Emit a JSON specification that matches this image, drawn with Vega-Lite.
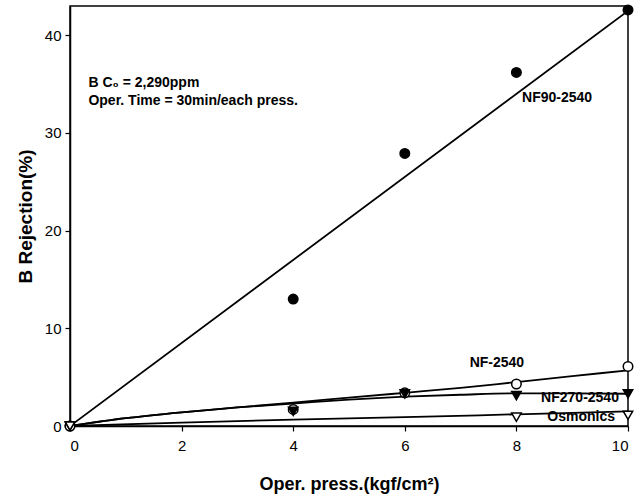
{
  "$schema": "https://vega.github.io/schema/vega-lite/v6.json",
  "autosize": "none",
  "width": 558,
  "height": 420,
  "padding": {"left": 70, "top": 6, "right": 6, "bottom": 77},
  "background": "white",
  "config": {
    "font": "Liberation Sans",
    "view": {"stroke": "black", "strokeWidth": 1.5},
    "axis": {
      "domainColor": "black", "domainWidth": 1.5, "tickColor": "black", "tickSize": 5, "tickWidth": 1.2,
      "grid": false, "labelFont": "Liberation Sans", "labelFontSize": 15, "labelColor": "black",
      "titleFont": "Liberation Sans", "titleFontSize": 18, "titleFontWeight": "bold", "titleColor": "black"
    }
  },
  "datasets": {
    "points": [
      {"series": "NF90-2540", "press": 0, "rej": 0},
      {"series": "NF90-2540", "press": 4, "rej": 13.0},
      {"series": "NF90-2540", "press": 6, "rej": 27.9},
      {"series": "NF90-2540", "press": 8, "rej": 36.2},
      {"series": "NF90-2540", "press": 10, "rej": 42.6},
      {"series": "NF-2540", "press": 0, "rej": 0},
      {"series": "NF-2540", "press": 4, "rej": 1.7},
      {"series": "NF-2540", "press": 6, "rej": 3.4},
      {"series": "NF-2540", "press": 8, "rej": 4.3},
      {"series": "NF-2540", "press": 10, "rej": 6.1},
      {"series": "NF270-2540", "press": 0, "rej": 0},
      {"series": "NF270-2540", "press": 4, "rej": 1.5},
      {"series": "NF270-2540", "press": 6, "rej": 3.3},
      {"series": "NF270-2540", "press": 8, "rej": 3.1},
      {"series": "NF270-2540", "press": 10, "rej": 3.3},
      {"series": "Osmonics", "press": 0, "rej": 0},
      {"series": "Osmonics", "press": 8, "rej": 0.9},
      {"series": "Osmonics", "press": 10, "rej": 1.1}
    ],
    "fits": [
      {"series": "NF90-2540", "press": 0, "rej": 0},
      {"series": "NF90-2540", "press": 10, "rej": 42.5},
      {"series": "NF-2540", "press": 0, "rej": 0},
      {"series": "NF-2540", "press": 1, "rej": 0.8},
      {"series": "NF-2540", "press": 2, "rej": 1.4},
      {"series": "NF-2540", "press": 3, "rej": 1.9},
      {"series": "NF-2540", "press": 4, "rej": 2.4},
      {"series": "NF-2540", "press": 5, "rej": 2.9},
      {"series": "NF-2540", "press": 6, "rej": 3.4},
      {"series": "NF-2540", "press": 7, "rej": 3.9},
      {"series": "NF-2540", "press": 8, "rej": 4.5},
      {"series": "NF-2540", "press": 9, "rej": 5.1},
      {"series": "NF-2540", "press": 10, "rej": 5.7},
      {"series": "NF270-2540", "press": 0, "rej": 0},
      {"series": "NF270-2540", "press": 1, "rej": 0.8},
      {"series": "NF270-2540", "press": 2, "rej": 1.4},
      {"series": "NF270-2540", "press": 3, "rej": 1.9},
      {"series": "NF270-2540", "press": 4, "rej": 2.3},
      {"series": "NF270-2540", "press": 5, "rej": 2.7},
      {"series": "NF270-2540", "press": 6, "rej": 3.0},
      {"series": "NF270-2540", "press": 7, "rej": 3.2},
      {"series": "NF270-2540", "press": 8, "rej": 3.35},
      {"series": "NF270-2540", "press": 9, "rej": 3.35},
      {"series": "NF270-2540", "press": 10, "rej": 3.3},
      {"series": "Osmonics", "press": 0, "rej": 0},
      {"series": "Osmonics", "press": 2, "rej": 0.35},
      {"series": "Osmonics", "press": 4, "rej": 0.65},
      {"series": "Osmonics", "press": 6, "rej": 0.9},
      {"series": "Osmonics", "press": 8, "rej": 1.2},
      {"series": "Osmonics", "press": 10, "rej": 1.5}
    ],
    "labels": [
      {"text": "NF90-2540", "press": 8.73, "rej": 33.6},
      {"text": "NF-2540", "press": 7.65, "rej": 6.5},
      {"text": "NF270-2540", "press": 9.14, "rej": 2.9},
      {"text": "Osmonics", "press": 9.16, "rej": 0.9}
    ],
    "notes": [
      {"text": "B C₀ = 2,290ppm", "press": 0.33, "rej": 35.1},
      {"text": "Oper. Time = 30min/each press.", "press": 0.33, "rej": 33.3}
    ]
  },
  "layer": [
    {
      "data": {"name": "fits"},
      "mark": {"type": "line", "color": "black", "strokeWidth": 1.8, "interpolate": "monotone", "clip": true},
      "encoding": {
        "x": {"field": "press", "type": "quantitative", "scale": {"domain": [0, 10], "nice": false},
              "axis": {"title": "Oper. press.(kgf/cm²)", "values": [0, 2, 4, 6, 8, 10], "labelPadding": 7, "titlePadding": 22}},
        "y": {"field": "rej", "type": "quantitative", "scale": {"domain": [0, 43], "nice": false},
              "axis": {"title": "B Rejection(%)", "values": [0, 10, 20, 30, 40], "labelPadding": 4, "titlePadding": 9, "titleFontSize": 19}},
        "detail": {"field": "series"}
      }
    },
    {
      "data": {"name": "points"},
      "mark": {"type": "point", "stroke": "black", "strokeWidth": 1.5, "opacity": 1, "clip": false},
      "encoding": {
        "x": {"field": "press", "type": "quantitative"},
        "y": {"field": "rej", "type": "quantitative"},
        "shape": {"field": "series", "type": "nominal", "legend": null,
                  "scale": {"domain": ["NF90-2540", "NF-2540", "NF270-2540", "Osmonics"], "range": ["circle", "circle", "triangle-down", "triangle-down"]}},
        "fill": {"field": "series", "type": "nominal", "legend": null,
                 "scale": {"domain": ["NF90-2540", "NF-2540", "NF270-2540", "Osmonics"], "range": ["black", "white", "black", "white"]}},
        "size": {"value": 90}
      }
    },
    {
      "data": {"name": "labels"},
      "mark": {"type": "text", "fontSize": 14, "fontWeight": "bold", "color": "black", "baseline": "middle", "align": "center", "font": "Liberation Sans"},
      "encoding": {
        "x": {"field": "press", "type": "quantitative"},
        "y": {"field": "rej", "type": "quantitative"},
        "text": {"field": "text"}
      }
    },
    {
      "data": {"name": "notes"},
      "mark": {"type": "text", "fontSize": 14, "fontWeight": "bold", "color": "black", "baseline": "middle", "align": "left", "font": "Liberation Sans"},
      "encoding": {
        "x": {"field": "press", "type": "quantitative"},
        "y": {"field": "rej", "type": "quantitative"},
        "text": {"field": "text"}
      }
    }
  ]
}
